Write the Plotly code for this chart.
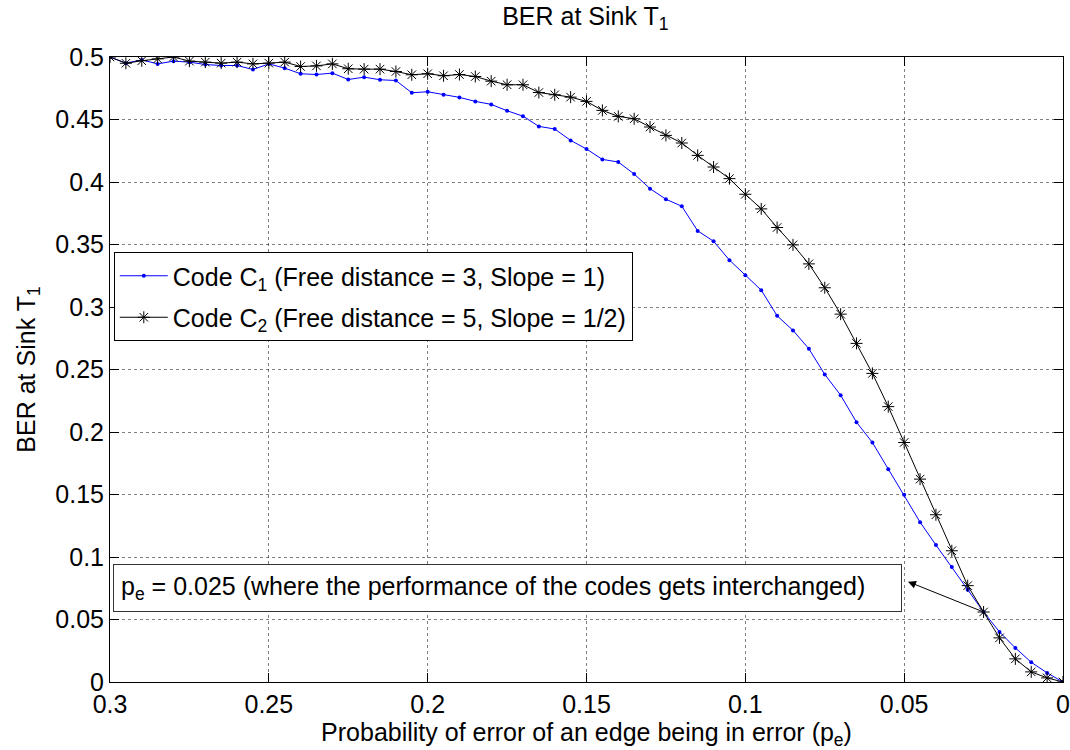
import plotly.graph_objects as go

# Probability of edge error (x axis), from 0.3 down to 0
p_e = [0.300, 0.295, 0.290, 0.285, 0.280, 0.275, 0.270, 0.265, 0.260, 0.255,
       0.250, 0.245, 0.240, 0.235, 0.230, 0.225, 0.220, 0.215, 0.210, 0.205,
       0.200, 0.195, 0.190, 0.185, 0.180, 0.175, 0.170, 0.165, 0.160, 0.155,
       0.150, 0.145, 0.140, 0.135, 0.130, 0.125, 0.120, 0.115, 0.110, 0.105,
       0.100, 0.095, 0.090, 0.085, 0.080, 0.075, 0.070, 0.065, 0.060, 0.055,
       0.050, 0.045, 0.040, 0.035, 0.030, 0.025, 0.020, 0.015, 0.010, 0.005,
       0.000]

# Code C1 (blue, dots)
ber_c1 = [0.5000, 0.4951, 0.4977, 0.4945, 0.4967, 0.4959, 0.4940, 0.4932, 0.4932, 0.4900,
          0.4945, 0.4911, 0.4866, 0.4860, 0.4871, 0.4820, 0.4839, 0.4818, 0.4812, 0.4714,
          0.4722, 0.4698, 0.4677, 0.4645, 0.4621, 0.4570, 0.4527, 0.4445, 0.4424, 0.4333,
          0.4264, 0.4181, 0.4160, 0.4064, 0.3947, 0.3862, 0.3806, 0.3609, 0.3526, 0.3375,
          0.3255, 0.3135, 0.2930, 0.2813, 0.2666, 0.2461, 0.2294, 0.2078, 0.1916, 0.1703,
          0.1498, 0.1279, 0.1096, 0.0920, 0.0739, 0.0560, 0.0401, 0.0273, 0.0158, 0.0073,
          0.0000]

# Code C2 (black, asterisks)
ber_c2 = [0.5000, 0.4950, 0.4970, 0.4985, 0.5000, 0.4967, 0.4959, 0.4951, 0.4959, 0.4945,
          0.4951, 0.4959, 0.4924, 0.4929, 0.4945, 0.4906, 0.4903, 0.4903, 0.4884, 0.4858,
          0.4866, 0.4850, 0.4860, 0.4844, 0.4807, 0.4778, 0.4778, 0.4716, 0.4698, 0.4679,
          0.4645, 0.4573, 0.4525, 0.4506, 0.4440, 0.4373, 0.4312, 0.4213, 0.4120, 0.4027,
          0.3902, 0.3785, 0.3636, 0.3497, 0.3345, 0.3154, 0.2943, 0.2709, 0.2469, 0.2203,
          0.1916, 0.1623, 0.1338, 0.1050, 0.0771, 0.0560, 0.0353, 0.0185, 0.0081, 0.0033,
          0.0000]

x_ticks = [0.3, 0.25, 0.2, 0.15, 0.1, 0.05, 0]
x_tick_labels = ["0.3", "0.25", "0.2", "0.15", "0.1", "0.05", "0"]
y_ticks = [0, 0.05, 0.1, 0.15, 0.2, 0.25, 0.3, 0.35, 0.4, 0.45, 0.5]
y_tick_labels = ["0", "0.05", "0.1", "0.15", "0.2", "0.25", "0.3", "0.35", "0.4", "0.45", "0.5"]

name_c1 = "Code C<sub>1</sub> (Free distance = 3, Slope = 1)"
name_c2 = "Code C<sub>2</sub> (Free distance = 5, Slope = 1/2)"
crossing_pe = 0.025
crossing_ber = 0.0560
note_text = "p<sub>e</sub> = 0.025 (where the performance of the codes gets interchanged)"

FONT = "Liberation Sans, Arial, Helvetica, sans-serif"
FS = 25

fig = go.Figure()
fig.add_trace(go.Scatter(
    x=p_e, y=ber_c1, mode="lines+markers", name=name_c1, legendgroup="a",
    line=dict(color="#0000ff", width=1),
    marker=dict(symbol="circle", size=4, color="#0000ff"),
))
fig.add_trace(go.Scatter(
    x=p_e, y=ber_c2, mode="lines+markers", name=name_c2, legendgroup="b",
    line=dict(color="black", width=1),
    marker=dict(symbol="asterisk-open", size=10, color="black",
                line=dict(color="black", width=1)),
))

axis_common = dict(
    showline=True, linecolor="black", linewidth=1, mirror="ticks",
    ticks="inside", ticklen=9, tickcolor="black", tickwidth=1,
    showgrid=True, gridcolor="rgba(0,0,0,0.5)", griddash="dot", gridwidth=1,
    zeroline=False,
    tickfont=dict(family=FONT, size=FS, color="black"),
)

fig.update_xaxes(
    range=[0.3, 0], tickvals=x_ticks, ticktext=x_tick_labels,
    title=dict(text="Probability of error of an edge being in error (p<sub>e</sub>)",
               font=dict(family=FONT, size=FS, color="black"), standoff=0),
    **axis_common,
)
fig.update_yaxes(
    range=[0, 0.5], tickvals=y_ticks, ticktext=y_tick_labels,
    title=dict(text="BER at Sink T<sub>1</sub>",
               font=dict(family=FONT, size=FS, color="black"), standoff=12),
    **axis_common,
)

fig.add_annotation(
    xref="paper", yref="paper", x=0.003, y=0.1894, xanchor="left", yanchor="top",
    text=note_text, showarrow=False, align="left", width=773,
    font=dict(family=FONT, size=FS, color="black"),
    bordercolor="#333333", borderwidth=1, borderpad=7, bgcolor="white",
)
fig.add_annotation(
    xref="x", yref="y", x=0.0488, y=0.0803,
    axref="x", ayref="y", ax=crossing_pe, ay=crossing_ber,
    text="", showarrow=True, arrowhead=2, arrowsize=1.6, arrowwidth=1,
    arrowcolor="black", standoff=0, startstandoff=0,
)

fig.update_layout(
    width=1070, height=750,
    margin=dict(l=110, r=7, t=57, b=68, autoexpand=False),
    paper_bgcolor="white", plot_bgcolor="white",
    title=dict(text="BER at Sink T<sub>1</sub>", x=0.547, xanchor="center",
               y=0.99, yanchor="top",
               font=dict(family=FONT, size=FS, color="black")),
    font=dict(family=FONT, size=FS, color="black"),
    showlegend=True,
    legend=dict(x=0.004, y=0.688, xanchor="left", yanchor="top",
                bordercolor="black", borderwidth=1, bgcolor="white",
                font=dict(family=FONT, size=FS, color="black"),
                tracegroupgap=6, itemwidth=48),
)

fig.write_html("out.html", config={"displayModeBar": False},
               post_script="document.body.style.margin='0px';")
